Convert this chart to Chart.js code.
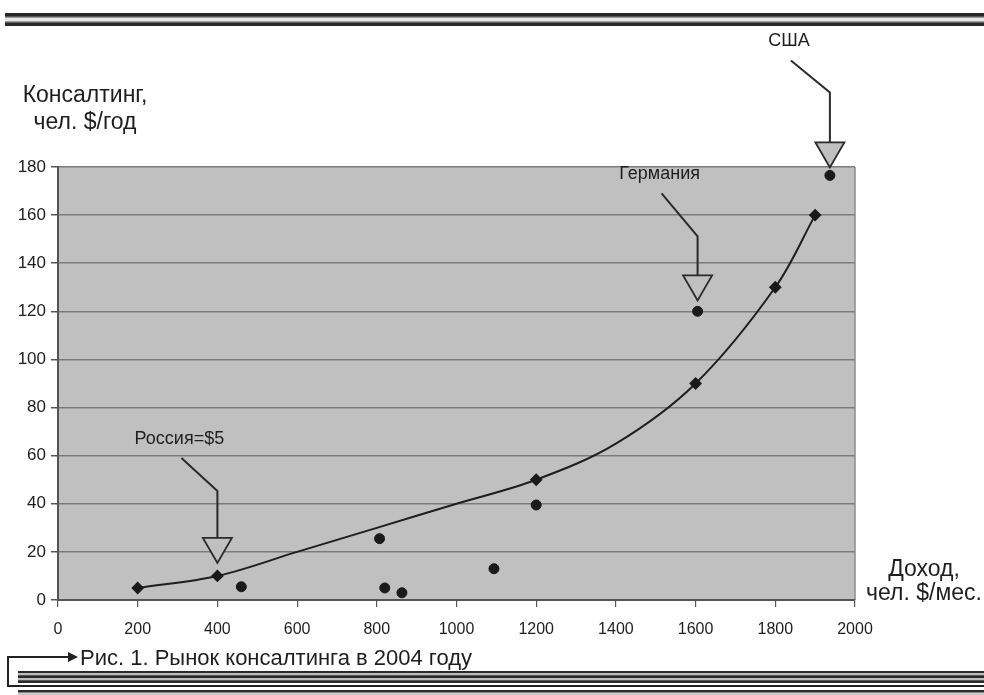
<!DOCTYPE html>
<html lang="ru">
<head>
<meta charset="utf-8">
<title>Рынок консалтинга в 2004 году</title>
<script src="https://cdn.jsdelivr.net/npm/chart.js@4"></script>
<style>
  html, body { margin: 0; padding: 0; background: #fff; }
  #wrap { position: relative; width: 984px; height: 695px; overflow: hidden; background: #fff;
          font-family: Arial, "Liberation Sans", sans-serif; color: #1e1e1e; }
  #chart { position: absolute; left: 0; top: 0; }
  .band { position: absolute; right: 0; }
  #bandTop { left: 5px; top: 13px; height: 13px;
    background: linear-gradient(to bottom, #262626 0 3px, #5a5a5a 3px 4px, #9a9a9a 4px 5px, #e6e6e6 5px 8px,
                #a0a0a0 8px 9px, #5e5e5e 9px 10px, #2a2a2a 10px 13px); }
  #bandBot1 { left: 18px; top: 671px; height: 12px;
    background: linear-gradient(to bottom, #2a2a2a 0 2px, #bdbdbd 2px 4px, #555 4px 5px, #2a2a2a 5px 7px,
                #bdbdbd 7px 9px, #555 9px 10px, #2a2a2a 10px 12px); }
  #bandBot2 { left: 18px; top: 690px; height: 5px;
    background: linear-gradient(to bottom, #2a2a2a 0 2px, #8a8a8a 2px 3px, #c8c8c8 3px 5px); }
  #bracket { position: absolute; left: 7px; top: 656px; right: 0; height: 29px;
    border-left: 2px solid #222; border-bottom: 2px solid #222; }
  #arrowLine { position: absolute; left: 7px; top: 656px; width: 62px; height: 2px; background: #222; }
  #arrowHead { position: absolute; left: 68px; top: 652px; width: 0; height: 0;
    border-top: 5px solid transparent; border-bottom: 5px solid transparent; border-left: 10px solid #222; }
  .txt { position: absolute; white-space: nowrap; }
  #caption { left: 80px; top: 645px; font-size: 22px; line-height: 26px; }
  #yTitle { left: 10px; top: 81px; width: 150px; text-align: center; font-size: 23px; line-height: 27px; }
  #xTitle { left: 860px; top: 556px; width: 128px; text-align: center; font-size: 23px; line-height: 24px; }
</style>
</head>
<body>
<div id="wrap">
  <canvas id="chart" width="984" height="695"></canvas>
  <div class="band" id="bandTop"></div>
  <div class="band" id="bandBot1"></div>
  <div class="band" id="bandBot2"></div>
  <div id="bracket"></div>
  <div id="arrowLine"></div>
  <div id="arrowHead"></div>
  <div class="txt" id="caption">Рис. 1. Рынок консалтинга в 2004 году</div>
  <div class="txt" id="yTitle">Консалтинг,<br>чел. $/год</div>
  <div class="txt" id="xTitle">Доход,<br>чел. $/мес.</div>
</div>
<script>
// Trend curve: income (x) vs consulting spend per person (y)
const trendIncome = [200, 400, 600, 800, 1000, 1200, 1400, 1600, 1800, 1900];
const trendConsulting = [5, 10, 20, 30, 40, 50, 65, 90, 130, 160];
const trendMarked = [true, true, false, false, false, true, false, true, true, true];

// Individual countries
const countryIncome = [460, 807, 820, 863, 1094, 1200, 1605, 1937];
const countryConsulting = [5.5, 25.5, 5, 3, 13, 39.5, 120, 176.5];

// Callouts pointing at particular marks
const calloutText = ['Россия=$5', 'Германия', 'США'];
const calloutIncome = [400, 1605, 1937];
const calloutConsulting = [10, 120, 176.5];

// Axis ticks
const xTicks = [0, 200, 400, 600, 800, 1000, 1200, 1400, 1600, 1800, 2000];
const yTicks = [0, 20, 40, 60, 80, 100, 120, 140, 160, 180];

const FONT = 'Arial, "Liberation Sans", sans-serif';
const INK = '#1e1e1e';

const trendData = trendIncome.map((x, i) => ({ x, y: trendConsulting[i] }));
const countryData = countryIncome.map((x, i) => ({ x, y: countryConsulting[i] }));

// Per-callout geometry: gap above mark, stem length, diagonal offset
const calloutGeom = [
  { gap: 13, stem: 47, dx: -36, dy: -33 },
  { gap: 11, stem: 39, dx: -36, dy: -43 },
  { gap: 8,  stem: 50, dx: -39, dy: -32 }
];

const plotBackground = {
  id: 'plotBackground',
  beforeDraw(chart) {
    const { ctx, chartArea: a } = chart;
    ctx.save();
    ctx.fillStyle = '#c0c0c0';
    ctx.fillRect(a.left, a.top, a.right - a.left, a.bottom - a.top);
    ctx.strokeStyle = '#8c8c8c';
    ctx.lineWidth = 1.5;
    ctx.beginPath();
    ctx.moveTo(a.right, a.top);
    ctx.lineTo(a.right, a.bottom);
    ctx.stroke();
    ctx.restore();
  }
};

const callouts = {
  id: 'callouts',
  afterDatasetsDraw(chart) {
    const { ctx, scales } = chart;
    ctx.save();
    calloutText.forEach((label, i) => {
      const g = calloutGeom[i];
      const px = scales.x.getPixelForValue(calloutIncome[i]);
      const py = scales.y.getPixelForValue(calloutConsulting[i]);
      const tipY = py - g.gap;
      const triH = 25, triW = 29;
      const topY = tipY - triH;
      const bendY = topY - g.stem;
      const startX = px + g.dx, startY = bendY + g.dy;
      // leader line
      ctx.strokeStyle = '#2a2a2a';
      ctx.lineWidth = 2;
      ctx.beginPath();
      ctx.moveTo(startX, startY);
      ctx.lineTo(px, bendY);
      ctx.lineTo(px, topY);
      ctx.stroke();
      // hollow arrowhead
      ctx.beginPath();
      ctx.moveTo(px - triW / 2, topY);
      ctx.lineTo(px + triW / 2, topY);
      ctx.lineTo(px, tipY);
      ctx.closePath();
      ctx.fillStyle = '#c0c0c0';
      ctx.fill();
      ctx.lineWidth = 1.8;
      ctx.stroke();
      // label
      ctx.fillStyle = INK;
      ctx.font = '18px ' + FONT;
      ctx.textAlign = 'center';
      ctx.textBaseline = 'middle';
      ctx.fillText(label, startX - 2, startY - 19);
    });
    ctx.restore();
  }
};

new Chart(document.getElementById('chart'), {
  type: 'scatter',
  data: {
    datasets: [
      {
        type: 'line',
        data: trendData,
        borderColor: '#1e1e1e',
        borderWidth: 2,
        tension: 0.35,
        pointStyle: 'rectRot',
        pointRadius: trendMarked.map(m => (m ? 5 : 0)),
        pointBackgroundColor: '#1a1a1a',
        pointBorderColor: '#1a1a1a',
        fill: false,
        order: 2
      },
      {
        data: countryData,
        pointStyle: 'circle',
        pointRadius: 5,
        pointBackgroundColor: '#1a1a1a',
        pointBorderColor: '#1a1a1a',
        showLine: false,
        order: 1
      }
    ]
  },
  options: {
    responsive: false,
    devicePixelRatio: 1,
    animation: false,
    events: [],
    layout: { padding: { left: 0, top: 167, right: 129, bottom: 55 } },
    plugins: { legend: { display: false }, tooltip: { enabled: false } },
    scales: {
      x: {
        type: 'linear',
        min: 0, max: 2000,
        afterBuildTicks(scale) { scale.ticks = xTicks.map(v => ({ value: v })); },
        afterFit(scale) { scale.height = 40; },
        grid: { drawOnChartArea: false, drawTicks: true, tickLength: 7, tickColor: '#555', lineWidth: 1.2 },
        border: { color: '#555', width: 2 },
        ticks: { color: INK, padding: 13, maxRotation: 0, autoSkip: false,
                 callback: v => String(v),
                 font: { family: FONT, size: 16 } }
      },
      y: {
        type: 'linear',
        min: 0, max: 180,
        afterBuildTicks(scale) { scale.ticks = yTicks.map(v => ({ value: v })); },
        afterFit(scale) { scale.width = 58; },
        grid: { color: '#7c7c7c', lineWidth: 1.5, tickLength: 7, tickColor: '#555' },
        border: { color: '#555', width: 2 },
        ticks: { color: INK, padding: 5, callback: v => String(v),
                 font: { family: FONT, size: 17 } }
      }
    }
  },
  plugins: [plotBackground, callouts]
});
</script>
</body>
</html>
